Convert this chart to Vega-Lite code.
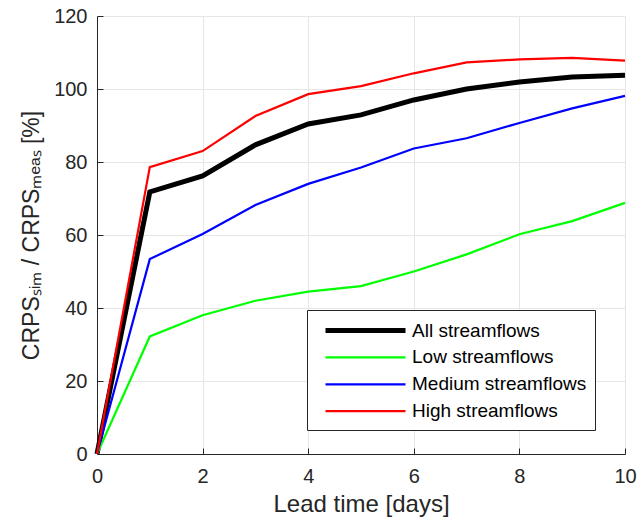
{
  "$schema": "https://vega.github.io/schema/vega-lite/v6.json",
  "width": 528,
  "height": 438,
  "autosize": {"type": "none"},
  "padding": {"left": 97, "top": 16, "right": 13, "bottom": 74},
  "background": "white",
  "config": {
    "view": {"stroke": null},
    "font": "Liberation Sans",
    "axis": {
      "labelFont": "Liberation Sans",
      "titleFont": "Liberation Sans",
      "labelFontSize": 20,
      "titleFontSize": 24,
      "titleFontWeight": "normal",
      "labelColor": "#262626",
      "titleColor": "#262626",
      "domainColor": "#262626",
      "tickColor": "#262626",
      "gridColor": "#e6e6e6",
      "gridOpacity": 1,
      "tickSize": -6,
      "domainWidth": 1
    },
    "legend": {
      "labelFont": "Liberation Sans",
      "labelFontSize": 19,
      "labelColor": "#000000",
      "labelLimit": 400
    }
  },
  "data": {
    "values": [
      {"day": 0, "value": 0, "series": "All streamflows"},
      {"day": 1, "value": 71.8, "series": "All streamflows"},
      {"day": 2, "value": 76.2, "series": "All streamflows"},
      {"day": 3, "value": 84.7, "series": "All streamflows"},
      {"day": 4, "value": 90.4, "series": "All streamflows"},
      {"day": 5, "value": 92.9, "series": "All streamflows"},
      {"day": 6, "value": 97.0, "series": "All streamflows"},
      {"day": 7, "value": 100.0, "series": "All streamflows"},
      {"day": 8, "value": 101.9, "series": "All streamflows"},
      {"day": 9, "value": 103.3, "series": "All streamflows"},
      {"day": 10, "value": 103.8, "series": "All streamflows"},
      {"day": 0, "value": 0, "series": "Low streamflows"},
      {"day": 1, "value": 32.2, "series": "Low streamflows"},
      {"day": 2, "value": 38.0, "series": "Low streamflows"},
      {"day": 3, "value": 42.0, "series": "Low streamflows"},
      {"day": 4, "value": 44.5, "series": "Low streamflows"},
      {"day": 5, "value": 46.0, "series": "Low streamflows"},
      {"day": 6, "value": 50.0, "series": "Low streamflows"},
      {"day": 7, "value": 54.7, "series": "Low streamflows"},
      {"day": 8, "value": 60.2, "series": "Low streamflows"},
      {"day": 9, "value": 63.8, "series": "Low streamflows"},
      {"day": 10, "value": 68.8, "series": "Low streamflows"},
      {"day": 0, "value": 0, "series": "Medium streamflows"},
      {"day": 1, "value": 53.4, "series": "Medium streamflows"},
      {"day": 2, "value": 60.3, "series": "Medium streamflows"},
      {"day": 3, "value": 68.2, "series": "Medium streamflows"},
      {"day": 4, "value": 74.0, "series": "Medium streamflows"},
      {"day": 5, "value": 78.5, "series": "Medium streamflows"},
      {"day": 6, "value": 83.7, "series": "Medium streamflows"},
      {"day": 7, "value": 86.5, "series": "Medium streamflows"},
      {"day": 8, "value": 90.7, "series": "Medium streamflows"},
      {"day": 9, "value": 94.7, "series": "Medium streamflows"},
      {"day": 10, "value": 98.1, "series": "Medium streamflows"},
      {"day": 0, "value": 0, "series": "High streamflows"},
      {"day": 1, "value": 78.6, "series": "High streamflows"},
      {"day": 2, "value": 83.0, "series": "High streamflows"},
      {"day": 3, "value": 92.6, "series": "High streamflows"},
      {"day": 4, "value": 98.6, "series": "High streamflows"},
      {"day": 5, "value": 100.8, "series": "High streamflows"},
      {"day": 6, "value": 104.3, "series": "High streamflows"},
      {"day": 7, "value": 107.3, "series": "High streamflows"},
      {"day": 8, "value": 108.1, "series": "High streamflows"},
      {"day": 9, "value": 108.5, "series": "High streamflows"},
      {"day": 10, "value": 107.8, "series": "High streamflows"}
    ]
  },
  "mark": {"type": "line", "strokeCap": "butt", "strokeJoin": "miter"},
  "encoding": {
    "x": {
      "field": "day",
      "type": "quantitative",
      "scale": {"domain": [0, 10], "nice": false},
      "axis": {"values": [0, 2, 4, 6, 8, 10], "title": "Lead time [days]", "labelPadding": 18, "titlePadding": 6, "labelFlush": false}
    },
    "y": {
      "field": "value",
      "type": "quantitative",
      "scale": {"domain": [0, 120], "nice": false},
      "axis": {"values": [0, 20, 40, 60, 80, 100, 120], "title": "CRPSₛᵢₘ / CRPSₘₑₐₛ [%]", "titleFontSize": 23, "labelPadding": 16, "titlePadding": 10, "labelFlush": false}
    },
    "color": {
      "field": "series",
      "type": "nominal",
      "sort": null,
      "scale": {
        "domain": ["All streamflows", "Low streamflows", "Medium streamflows", "High streamflows"],
        "range": ["#000000", "#00ff00", "#0000ff", "#ff0000"]
      },
      "legend": {
        "title": null,
        "orient": "none",
        "legendX": 210,
        "legendY": 294,
        "strokeColor": "#262626",
        "fillColor": "white",
        "padding": 8,
        "symbolType": "M-0.2,0H7.8",
        "symbolSize": 400,
        "labelOffset": 72,
        "rowPadding": 4.9
      }
    },
    "strokeWidth": {
      "field": "series",
      "type": "nominal",
      "sort": null,
      "scale": {
        "type": "ordinal",
        "domain": ["All streamflows", "Low streamflows", "Medium streamflows", "High streamflows"],
        "range": [5, 2.2, 2.2, 2.2]
      },
      "legend": {
        "title": null,
        "orient": "none",
        "legendX": 210,
        "legendY": 294,
        "strokeColor": "#262626",
        "fillColor": "white",
        "padding": 8,
        "symbolType": "M-0.2,0H7.8",
        "symbolSize": 400,
        "labelOffset": 72,
        "rowPadding": 4.9
      }
    }
  }
}
